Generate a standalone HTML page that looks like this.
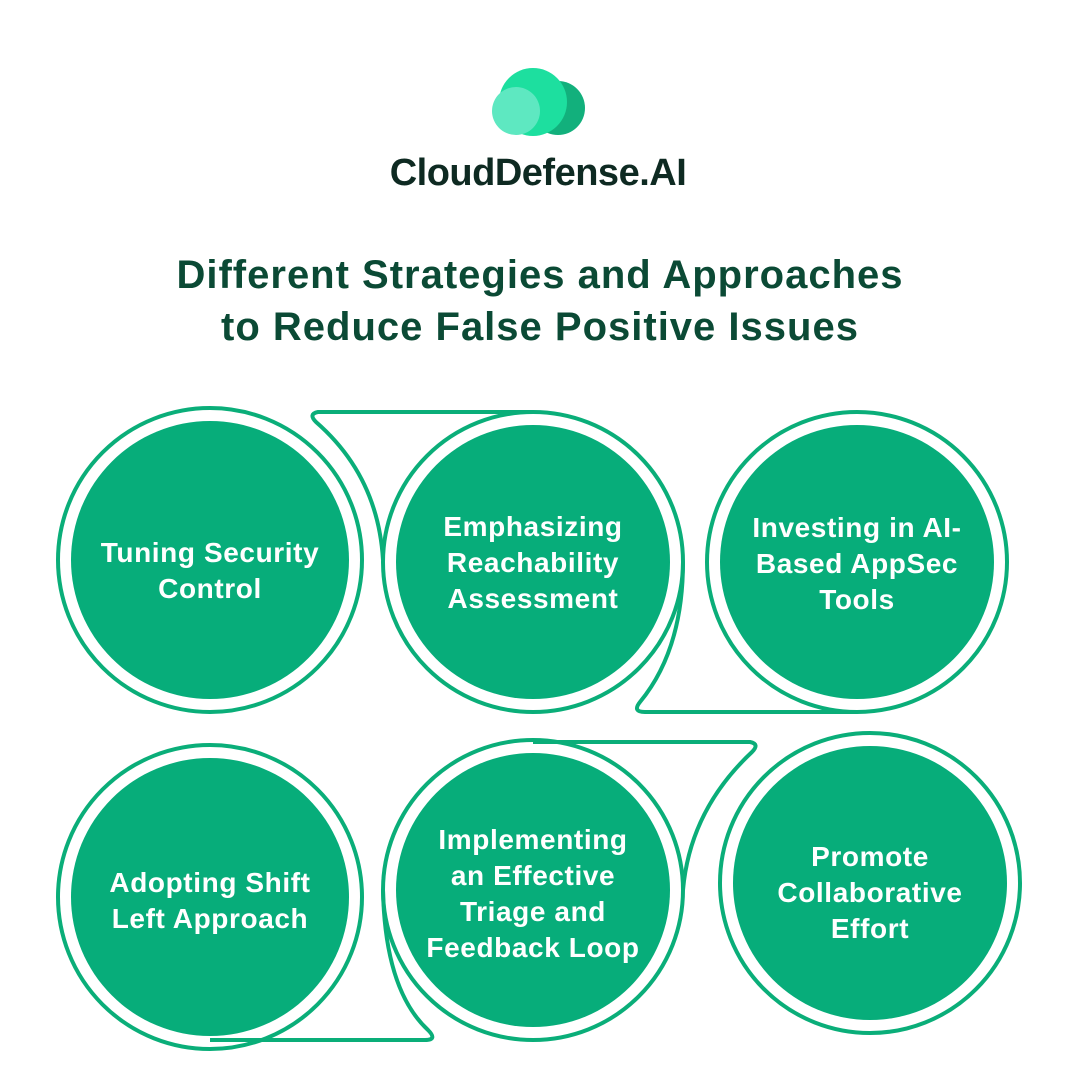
<!DOCTYPE html>
<html><head><meta charset="utf-8"><style>
body{margin:0;background:#fff;}
svg{display:block;}
text{font-family:"Liberation Sans",sans-serif;font-weight:bold;}
</style></head><body>
<svg width="1080" height="1080" viewBox="0 0 1080 1080">
<circle cx="558" cy="108" r="27" fill="#12b07c"/>
<circle cx="533" cy="102" r="34" fill="#1ddf9f"/>
<circle cx="516" cy="111" r="24" fill="#5ee8c1"/>
<text x="538" y="185" text-anchor="middle" font-size="38" fill="#0e2a22" letter-spacing="-0.5">CloudDefense.AI</text>
<text x="540" y="288" text-anchor="middle" font-size="40" fill="#0b4a35" letter-spacing="1">Different Strategies and Approaches</text>
<text x="540" y="340" text-anchor="middle" font-size="40" fill="#0b4a35" letter-spacing="1">to Reduce False Positive Issues</text>
<g fill="none" stroke="#0aae79" stroke-width="4" stroke-linejoin="round">
<circle cx="210" cy="560" r="152"/>
<circle cx="533" cy="562" r="150"/>
<path d="M533 412 L318 412 Q308 414 316 422 Q378 476 383 560"/>
<path d="M683 562 Q683 650 640 702 Q632 712 645 712 L857 712"/>
<circle cx="857" cy="562" r="150"/>
<circle cx="210" cy="897" r="152"/>
<circle cx="533" cy="890" r="150"/>
<path d="M533 742 L750 742 Q760 744 752 752 Q690 810 683 890"/>
<path d="M383 890 Q385 990 428 1030 Q438 1040 425 1040 L210 1040"/>
<circle cx="870" cy="883" r="150"/>
</g>
<g fill="#07ad7a">
<circle cx="210" cy="560" r="139"/>
<circle cx="533" cy="562" r="137"/>
<circle cx="857" cy="562" r="137"/>
<circle cx="210" cy="897" r="139"/>
<circle cx="533" cy="890" r="137"/>
<circle cx="870" cy="883" r="137"/>
</g>
<g fill="#fff" font-size="28" text-anchor="middle" letter-spacing="0.6">
<text x="210" y="562">Tuning Security</text><text x="210" y="598">Control</text>
<text x="533" y="536">Emphasizing</text><text x="533" y="572">Reachability</text><text x="533" y="608">Assessment</text>
<text x="857" y="537">Investing in AI-</text><text x="857" y="573">Based AppSec</text><text x="857" y="609">Tools</text>
<text x="210" y="892">Adopting Shift</text><text x="210" y="928">Left Approach</text>
<text x="533" y="849">Implementing</text><text x="533" y="885">an Effective</text><text x="533" y="921">Triage and</text><text x="533" y="957">Feedback Loop</text>
<text x="870" y="866">Promote</text><text x="870" y="902">Collaborative</text><text x="870" y="938">Effort</text>
</g>
</svg>
</body></html>
